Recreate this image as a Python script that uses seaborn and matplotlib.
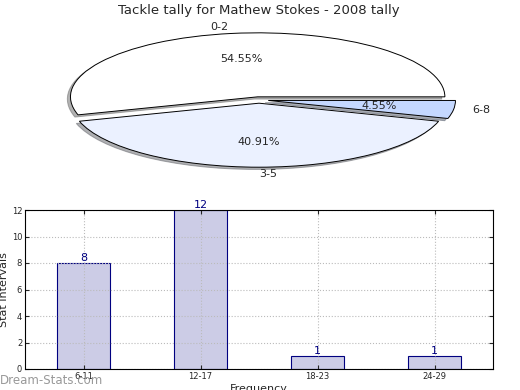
import numpy as np
import pandas as pd
import matplotlib
matplotlib.use('Agg')
import matplotlib.pyplot as plt
import seaborn as sns

# Pie data
pie_labels = ['0-2', '3-5', '6-8']
pie_counts = [12, 9, 1]
pie_colors = ['#ffffff', '#ebf1ff', '#c5d8ff']

# Bar data
bar_cats = ['6-11', '12-17', '18-23', '24-29']
bar_vals = [8, 12, 1, 1]

sns.set_style('white')
plt.rcParams['font.family'] = ['DejaVu Sans']

fig = plt.figure(figsize=(5.2, 3.9), dpi=100)

# 1. Pie (squashed into an ellipse)
ax1 = fig.add_axes([25 / 520, 210 / 390, 468 / 520, 160 / 390])
wedges, texts, autotexts = ax1.pie(
    pie_counts, labels=pie_labels, colors=pie_colors, autopct='%.2f%%',
    explode=[0.05, 0.05, 0.05],
    shadow={'ox': -0.012, 'oy': -0.025, 'shade': 0.6},
    startangle=0, counterclock=True,
    wedgeprops={'edgecolor': 'black', 'linewidth': 0.7},
    textprops={'fontsize': 8}, labeldistance=1.1, pctdistance=0.6)
ax1.set_aspect('auto')
ax1.set_xlim(-1.25, 1.25)
ax1.set_ylim(-1.25, 1.25)
ax1.set_title('Tackle tally for Mathew Stokes - 2008 tally', fontsize=9.5, pad=4)

# 2. Bar chart
ax2 = fig.add_axes([25 / 520, 21 / 390, 468 / 520, 159 / 390])
df = pd.DataFrame({'interval': bar_cats, 'count': bar_vals})
sns.barplot(data=df, x='interval', y='count', ax=ax2, color='#ccccE6',
            saturation=1, width=0.45, edgecolor='#000080', linewidth=0.8)
for p, v in zip(ax2.patches, bar_vals):
    ax2.text(p.get_x() + p.get_width() / 2, p.get_height(), str(v),
             ha='center', va='bottom', color='#000080', fontsize=8)
ax2.set_xlim(-0.5, 3.5)
ax2.set_ylim(0, 12)
ax2.set_yticks(range(0, 13, 2))
ax2.grid(True, linestyle=':', color='#bbbbbb', linewidth=0.8)
ax2.set_axisbelow(False)
ax2.tick_params(axis='both', labelsize=6, direction='in', length=3,
                right=True, top=True, bottom=True, left=True, pad=2)
for s in ax2.spines.values():
    s.set_color('black')
    s.set_linewidth(0.8)
    s.set_zorder(10)
ax2.set_xlabel('Frequency', fontsize=8, labelpad=2)
ax2.set_ylabel('Stat Intervals', fontsize=8, labelpad=2)

# watermark
fig.text(0.0, 3 / 390, 'Dream-Stats.com', color='#999999', fontsize=8.5,
         ha='left', va='bottom')

fig.savefig('out.png', dpi=100)
